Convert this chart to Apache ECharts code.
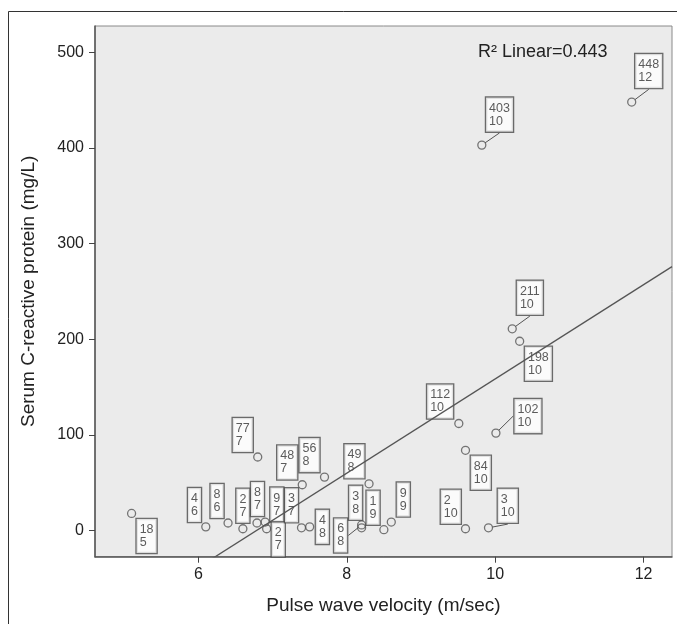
<!DOCTYPE html>
<html>
<head>
<meta charset="utf-8">
<script src="https://cdn.jsdelivr.net/npm/echarts@6/dist/echarts.min.js"></script>
<style>
html,body{margin:0;padding:0;background:#fff;}
#c{width:677px;height:624px;}
</style>
</head>
<body>
<div id="c"></div>
<script>
// Pulse wave velocity (m/sec)
const pwv = [11.84, 9.82, 10.23, 10.33, 9.51, 10.01, 9.60, 6.80, 7.40, 7.70, 8.30, 5.10, 6.10, 6.40, 6.60, 6.79, 6.90, 6.92, 7.39, 7.50, 8.20, 8.20, 8.50, 8.60, 9.60, 9.91];
// Serum C-reactive protein (mg/L)
const crp = [448, 403, 211, 198, 112, 102, 84, 77, 48, 56, 49, 18, 4, 8, 2, 8, 9, 2, 3, 4, 6, 3, 1, 9, 2, 3];
// second line of each point label (rounded PWV)
const pwvLabel = [12, 10, 10, 10, 10, 10, 10, 7, 7, 8, 8, 5, 6, 6, 7, 7, 7, 7, 7, 8, 8, 8, 9, 9, 10, 10];
const xTicks = [6, 8, 10, 12];
const yTicks = [0, 100, 200, 300, 400, 500];
const r2Text = 'R\u00B2 Linear=0.443';

// label box placement (pixel offsets from the point) and leader-line visibility, layout only
const labelOffsets = [
  [17, -31], [17.7, -30.5], [17.6, -31], [18.7, 22.5], [-18.7, -22], [32, -17], [15.3, 22.4],
  [-15, -22], [-15, -22.3], [-15, -22], [-14.6, -22.5], [15, 22.5],
  [-11.3, -21.8], [-11, -22], [0, -23], [0.5, -24], [11.7, -17.5], [11.6, 10.7], [-10, -22.5],
  [12.7, 0], [-21, 10.5], [-6, -25], [-10.8, -22], [12, -22.5], [-14.7, -22], [19.3, -22]
];
const leaderIdx = [0, 1, 2, 5, 20, 25];

// least-squares fit line from the data
const n = pwv.length;
const mx = pwv.reduce((a, b) => a + b, 0) / n;
const my = crp.reduce((a, b) => a + b, 0) / n;
let sxy = 0, sxx = 0;
for (let i = 0; i < n; i++) { sxy += (pwv[i] - mx) * (crp[i] - my); sxx += (pwv[i] - mx) ** 2; }
const slope = sxy / sxx;
const intercept = my - slope * mx;

const X_MIN = 4.607, X_MAX = 12.383, Y_MIN = -27.2, Y_MAX = 527.5;
const fitData = [[X_MIN, intercept + slope * X_MIN], [X_MAX, intercept + slope * X_MAX]];

const FONT2 = "'Liberation Sans',Arial,sans-serif";

const chart = echarts.init(document.getElementById('c'), null, {renderer: 'canvas'});
chart.setOption({
  animation: false,
  backgroundColor: '#ffffff',
  graphic: [
    {type: 'rect', z: -10, silent: true, shape: {x: 8.5, y: 11.5, width: 700, height: 700},
     style: {fill: 'none', stroke: '#333', lineWidth: 1}},
    {type: 'text', z: 10, x: 478, y: 52,
     style: {text: r2Text, fontSize: 18, fontFamily: FONT2, fill: '#222', verticalAlign: 'middle'}}
  ],
  grid: {left: 95, top: 26, width: 577, height: 530.7, show: true, backgroundColor: '#ebebeb',
         borderColor: '#8a8a8a', borderWidth: 1, containLabel: false},
  xAxis: {
    type: 'value', min: X_MIN, max: X_MAX,
    name: 'Pulse wave velocity (m/sec)', nameLocation: 'middle', nameGap: 40,
    nameTextStyle: {fontSize: 19, fontFamily: FONT2, color: '#222'},
    axisLine: {show: true, onZero: false, lineStyle: {color: '#555', width: 1.5}},
    axisTick: {show: true, length: 6, customValues: xTicks, lineStyle: {color: '#444'}},
    axisLabel: {customValues: xTicks, fontSize: 16, fontFamily: FONT2, color: '#222', margin: 10},
    splitLine: {show: false}
  },
  yAxis: {
    type: 'value', min: Y_MIN, max: Y_MAX,
    name: 'Serum C-reactive protein (mg/L)', nameLocation: 'middle', nameGap: 57,
    nameTextStyle: {fontSize: 19, fontFamily: FONT2, color: '#222'},
    axisLine: {show: true, onZero: false, lineStyle: {color: '#555', width: 1.5}},
    axisTick: {show: true, length: 6, customValues: yTicks, lineStyle: {color: '#444'}},
    axisLabel: {customValues: yTicks, fontSize: 16, fontFamily: FONT2, color: '#222', margin: 11},
    splitLine: {show: false}
  },
  series: [
    {
      type: 'scatter', z: 2,
      data: pwv.map((x, i) => ({
        value: [x, crp[i], pwvLabel[i]],
        labelLine: {show: leaderIdx.indexOf(i) >= 0}
      })),
      symbol: 'circle', symbolSize: 8,
      itemStyle: {color: 'rgba(0,0,0,0)', borderColor: '#555', borderWidth: 1.3},
      label: {
        show: true, position: 'inside',
        formatter: p => '{a|' + p.value[1] + '}\n{a|' + p.value[2] + '}',
        backgroundColor: '#fff', borderColor: '#4a4a4a', borderWidth: 1.3,
        padding: [4, 3, 4, 3],
        rich: {a: {fontSize: 12.5, lineHeight: 13, fontFamily: FONT2, color: '#333', align: 'left'}}
      },
      labelLayout: p => ({dx: labelOffsets[p.dataIndex][0], dy: labelOffsets[p.dataIndex][1]}),
      labelLine: {show: false, lineStyle: {color: '#555', width: 1}}
    },
    {
      type: 'line', z: 5, data: fitData, symbol: 'none', clip: true,
      lineStyle: {color: '#555', width: 1.3}, silent: true
    }
  ]
});
</script>
</body>
</html>
